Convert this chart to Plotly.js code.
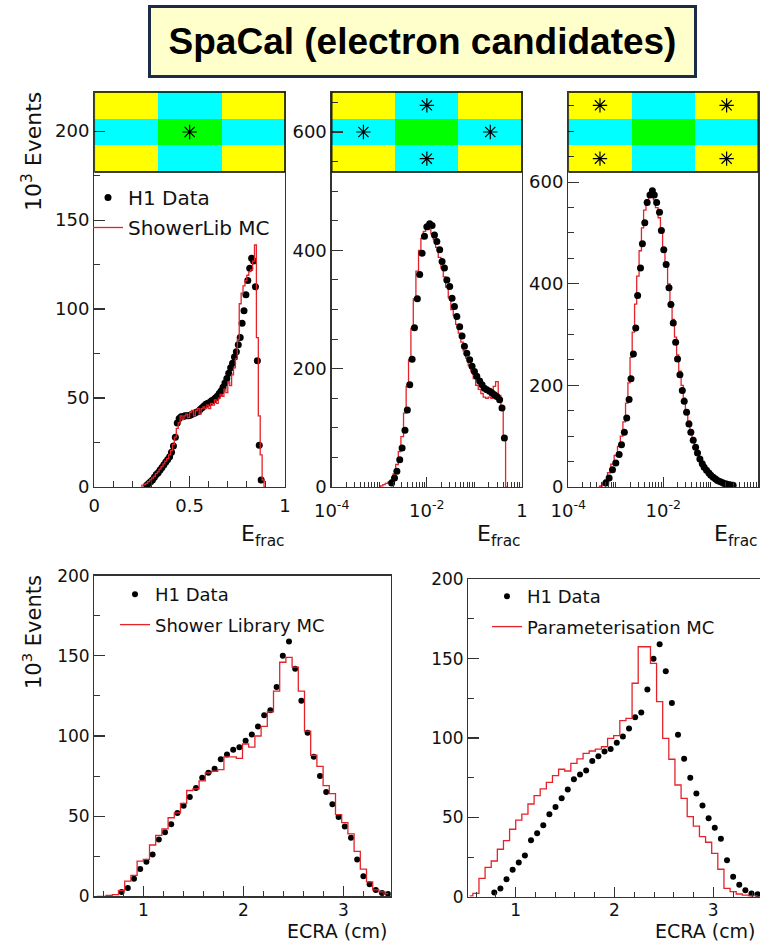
<!DOCTYPE html>
<html><head><meta charset="utf-8">
<script src="https://cdn.plot.ly/plotly-3.0.1.min.js"></script>
<style>html,body{margin:0;padding:0;background:#fff}#chart{width:760px;height:945px}</style>
</head><body><div id="chart"></div>
<script>
// ---------- DATA ----------
// Top-left: central cell, E_frac (linear)
const tlDataX = [0.275,0.285,0.295,0.305,0.315,0.325,0.335,0.345,0.355,0.365,0.375,0.385,0.395,0.405,0.415,0.425,0.435,0.445,0.455,0.465,0.475,0.485,0.495,0.505,0.515,0.525,0.535,0.545,0.555,0.565,0.575,0.585,0.595,0.605,0.615,0.625,0.635,0.645,0.655,0.665,0.675,0.685,0.695,0.705,0.715,0.725,0.735,0.745,0.755,0.765,0.775,0.785,0.795,0.805,0.815,0.825,0.835,0.845,0.855,0.865,0.875];
const tlData = [1,2,3,4,5.5,7,8,9.5,11,12.5,14,15.5,17,19.5,23,28,36,38.5,39.5,39.5,40,40,40,40.5,41,41.5,42,42.5,43.5,44.5,45.5,46.5,47,47.5,48.5,49,50,51,52.5,54,56,58.5,61,64,67,69.5,73,76,80,84,92,99,108,116,123,128.5,127,112.5,71,23.5,4];
const tlMcX = [0.245,0.255,0.265,0.275,0.285,0.295,0.305,0.315,0.325,0.335,0.345,0.355,0.365,0.375,0.385,0.395,0.405,0.415,0.425,0.435,0.445,0.455,0.465,0.475,0.485,0.495,0.505,0.515,0.525,0.535,0.545,0.555,0.565,0.575,0.585,0.595,0.605,0.615,0.625,0.635,0.645,0.655,0.665,0.675,0.685,0.695,0.705,0.715,0.725,0.735,0.745,0.755,0.765,0.775,0.785,0.795,0.805,0.815,0.825,0.835,0.845,0.855,0.865,0.875,0.885,0.895];
const tlMc = [0.5,1,1.5,2,3,4,5,6,7.5,8.5,10,11.5,13,14.5,16,18,20.5,24,28,33,36,40,38,40,41,39,42,43,40,43,44,41,44,45,44,46,44,47,46,49,47,50,52,51,55,53,59,57,63,67,72,83,103,109,113,116,119,121,122,127,136,84,40,18,4,0];

// Top-middle: edge cells, log10(E_frac)
const midDataLogX = [-2.74,-2.68,-2.63,-2.57,-2.52,-2.46,-2.41,-2.36,-2.31,-2.26,-2.20,-2.15,-2.10,-2.05,-2.00,-1.94,-1.89,-1.84,-1.79,-1.73,-1.68,-1.63,-1.58,-1.52,-1.47,-1.42,-1.37,-1.31,-1.26,-1.21,-1.16,-1.10,-1.05,-1.00,-0.95,-0.89,-0.84,-0.79,-0.74,-0.68,-0.63,-0.58,-0.53,-0.47,-0.42,-0.37];
const midData = [6.8,15,26.5,46,66,96,130,173,216,269,318,359,395,424,440,445,442,426,415,401,381,370,350,339,319,305,288,271,255,238,226,215,204,195,187,179,173,167,164.5,162,159,156,153,147.6,133.5,83];
const midMcLogX = [-3.00,-2.95,-2.90,-2.85,-2.79,-2.74,-2.68,-2.63,-2.57,-2.52,-2.46,-2.41,-2.36,-2.31,-2.26,-2.20,-2.15,-2.10,-2.05,-2.00,-1.94,-1.89,-1.84,-1.79,-1.73,-1.68,-1.63,-1.58,-1.52,-1.47,-1.42,-1.37,-1.31,-1.26,-1.21,-1.16,-1.10,-1.05,-1.00,-0.95,-0.89,-0.84,-0.79,-0.74,-0.68,-0.63,-0.58,-0.53,-0.47,-0.42,-0.37,-0.32];
const midMc = [0.5,2,4,6,8,12,22,38,60,85,125,170,215,268,318,365,400,420,432,440,435,428,418,405,388,370,355,338,320,300,290,275,260,245,230,218,205,195,183,172,165,158,152,150,152,150,170,178,155,135,80,0];

// Top-right: corner cells, log10(E_frac)
const rDataLogX = [-3.21,-3.14,-3.07,-3.00,-2.93,-2.88,-2.82,-2.77,-2.72,-2.68,-2.63,-2.58,-2.54,-2.48,-2.44,-2.39,-2.34,-2.28,-2.23,-2.19,-2.14,-2.08,-2.04,-1.99,-1.94,-1.88,-1.84,-1.79,-1.74,-1.70,-1.65,-1.60,-1.56,-1.51,-1.46,-1.42,-1.37,-1.32,-1.28,-1.23,-1.18,-1.14,-1.09,-1.04,-1.00,-0.95,-0.90,-0.86,-0.81,-0.76,-0.72,-0.67,-0.62,-0.58,-0.53];
const rData = [7.9,17.7,34,47,64,83,108,136,172,213,262,313,377,431,479,520,560,575,583,575,560,541,505,467,438,392,359,323,285,252,221,190,169,147,124,108,92,78,67,55,46,39,33,27.6,23,19,15.7,13,11,9,7,6,4.6,4,3.3];
const rMcLogX = [-3.36,-3.31,-3.26,-3.21,-3.14,-3.07,-3.00,-2.93,-2.88,-2.82,-2.77,-2.72,-2.68,-2.63,-2.58,-2.54,-2.48,-2.44,-2.39,-2.34,-2.28,-2.23,-2.19,-2.14,-2.08,-2.04,-1.99,-1.94,-1.88,-1.84,-1.79,-1.74,-1.70,-1.65,-1.60,-1.56,-1.51,-1.46,-1.42,-1.37,-1.32,-1.28,-1.23,-1.18,-1.14,-1.09,-1.04,-1.00,-0.95,-0.90,-0.86,-0.81,-0.76,-0.72,-0.67,-0.62,-0.58,-0.53,-0.48];
const rMc = [0,2,6,14,28,45,62,80,100,128,165,205,255,305,360,415,465,510,545,565,572,575,565,550,530,500,470,440,400,365,330,295,260,228,200,175,152,130,112,96,82,70,58,48,40,33,27,22,18,15,12,10,8,6.5,5,4,3,2,0];

// Bottom: ECRA (cm)
const ecraDataX = [0.783,0.845,0.907,0.969,1.031,1.093,1.155,1.217,1.279,1.341,1.403,1.465,1.527,1.589,1.651,1.713,1.775,1.837,1.899,1.961,2.023,2.085,2.147,2.209,2.271,2.333,2.395,2.457,2.519,2.581,2.643,2.705,2.767,2.829,2.891,2.953,3.015,3.077,3.139,3.201,3.263,3.325,3.387,3.449];
const ecraData = [2.7,5.2,11,17,21.5,26,35.5,40,45,52,56.5,62,67.5,74,77,79.5,85.5,88.5,91.5,93,97,101,106,113,116,130.5,150,159,142,122,102,87,75,65,57.5,49.5,43.5,36.5,23,12.5,7.5,4,2,1.5];
const ecraMcX = [0.535,0.597,0.659,0.721,0.783,0.845,0.907,0.969,1.031,1.093,1.155,1.217,1.279,1.341,1.403,1.465,1.527,1.589,1.651,1.713,1.775,1.837,1.899,1.961,2.023,2.085,2.147,2.209,2.271,2.333,2.395,2.457,2.519,2.581,2.643,2.705,2.767,2.829,2.891,2.953,3.015,3.077,3.139,3.201,3.263,3.325,3.387,3.449];
const showerLibMc = [0,0,0.5,1,3.5,9.5,13,22,23,32,38,42,49,52,58,66,67,72,77,78,79,87,87,86,95,93,100,106,115,128,146,149,143,128,103,88,81,69,64,51,46,39,28,17,9,4,2.7,1.7];
const paramMc = [0.5,2.1,11.6,18.5,22.5,29.9,35.3,42.5,48.3,52,58.4,63.7,67.9,72,76.3,80.3,79.2,84,86.8,90.3,91.8,93,94.5,99.8,101.5,110.9,112.4,134.5,157.5,157.5,147,122.9,99.8,86.6,70.4,62,50.4,44.5,37.8,34.3,27.3,17.3,5.3,3.2,1.7,1,0.5,0.5];

// Inset cell maps (0 = corner, 1 = edge, 2 = centre)
const cellZ = [[0,1,0],[1,2,1],[0,1,0]];
const starsCentreX = [1], starsCentreY = [1];
const starsEdgeX = [1,0,2,1], starsEdgeY = [2,1,1,0];
const starsCornerX = [0,2,0,2], starsCornerY = [2,2,0,0];

// Labels
const titleText = 'SpaCal (electron candidates)';
const dataName = 'H1 Data';
const mcNames = ['ShowerLib MC', 'Shower Library MC', 'Parameterisation MC'];
const logTickVals = [1e-4, 1e-2, 1];
const logTickText = ['10<sup>-4</sup>', '10<sup>-2</sup>', '1'];

// ---------- STYLE ----------
const W = 760, H = 945;
const FONT = 'DejaVu Sans, Liberation Sans, Arial, sans-serif';
const RED = '#e5222a';
const AX = '#333';
const INSET_FRAC = 80 / 395;
const px = p => p / W;
const py = p => 1 - p / H;
const pow10 = a => a.map(v => Math.pow(10, v));

function ax(extra, fs) {
  return Object.assign({
    showline: true, linecolor: AX, linewidth: 1.3, mirror: true,
    ticks: 'inside', ticklen: 11, tickwidth: 1.2, tickcolor: AX,
    showgrid: false, zeroline: false, fixedrange: true,
    tickfont: {family: FONT, size: fs || 18, color: '#111'},
    minor: {ticks: 'inside', ticklen: 6, tickwidth: 1, tickcolor: AX, showgrid: false}
  }, extra);
}
function withMinor(a, m) { a.minor = Object.assign({}, a.minor, m); return a; }

const dataMarker = s => ({color: '#000', size: s});
const mcLine = {color: RED, width: 1.3, shape: 'hvh'};

const traces = [
  // top-left
  {type:'scatter', mode:'markers', x: tlDataX, y: tlData, xaxis:'x', yaxis:'y', marker: dataMarker(7), name: dataName, legend:'legend', legendgroup:'a1', hoverinfo:'skip'},
  {type:'scatter', mode:'lines', x: tlMcX, y: tlMc, xaxis:'x', yaxis:'y', line: mcLine, name: mcNames[0], legend:'legend', legendgroup:'a2', hoverinfo:'skip'},
  // top-middle
  {type:'scatter', mode:'lines', x: pow10(midMcLogX), y: midMc, xaxis:'x2', yaxis:'y2', line: mcLine, showlegend:false, hoverinfo:'skip'},
  {type:'scatter', mode:'markers', x: pow10(midDataLogX), y: midData, xaxis:'x2', yaxis:'y2', marker: dataMarker(7), showlegend:false, hoverinfo:'skip'},
  // top-right
  {type:'scatter', mode:'lines', x: pow10(rMcLogX), y: rMc, xaxis:'x3', yaxis:'y3', line: mcLine, showlegend:false, hoverinfo:'skip'},
  {type:'scatter', mode:'markers', x: pow10(rDataLogX), y: rData, xaxis:'x3', yaxis:'y3', marker: dataMarker(7), showlegend:false, hoverinfo:'skip'},
  // bottom-left
  {type:'scatter', mode:'markers', x: ecraDataX, y: ecraData, xaxis:'x4', yaxis:'y4', marker: dataMarker(6), name: dataName, legend:'legend2', legendgroup:'b1', hoverinfo:'skip'},
  {type:'scatter', mode:'lines', x: ecraMcX, y: showerLibMc, xaxis:'x4', yaxis:'y4', line: mcLine, name: mcNames[1], legend:'legend2', legendgroup:'b2', hoverinfo:'skip'},
  // bottom-right
  {type:'scatter', mode:'markers', x: ecraDataX, y: ecraData, xaxis:'x5', yaxis:'y5', marker: dataMarker(6), name: dataName, legend:'legend3', legendgroup:'c1', hoverinfo:'skip'},
  {type:'scatter', mode:'lines', x: ecraMcX, y: paramMc, xaxis:'x5', yaxis:'y5', line: mcLine, name: mcNames[2], legend:'legend3', legendgroup:'c2', hoverinfo:'skip'}
];

// insets
const cs = [[0,'#ffff00'],[0.5,'#00ffff'],[1,'#00ff00']];
[['x6','y6',starsCentreX,starsCentreY],['x7','y7',starsEdgeX,starsEdgeY],['x8','y8',starsCornerX,starsCornerY]].forEach(([xa,ya,sx,sy]) => {
  traces.push({type:'heatmap', z: cellZ, xaxis: xa, yaxis: ya, colorscale: cs, zmin:0, zmax:2, showscale:false, hoverinfo:'skip'});
  traces.push({type:'scatter', mode:'markers', x: sx, y: sy, xaxis: xa, yaxis: ya, showlegend:false, hoverinfo:'skip',
    marker:{symbol:'asterisk-open', size:12, color:'#000', line:{color:'#000', width:1.2}}});
});

const topDom = [py(487), py(92)];
const logX = (d) => withMinor(ax({type:'log', domain:d, range:[-4,0], tickmode:'array', tickvals: logTickVals, ticktext: logTickText, ticklen:10, ticklabelstandoff:7}), {dtick:'D1', ticklen:5});
const legendBase = (x, y, fs, gap) => ({x: px(x), y: py(y), xanchor:'left', yanchor:'top', bgcolor:'rgba(0,0,0,0)', tracegroupgap: gap, font:{family:FONT, size:fs, color:'#111'}});
const layout = {
  width: W, height: H, margin: {l:0, r:0, t:0, b:0},
  paper_bgcolor: '#fff', plot_bgcolor: '#fff', showlegend: true,
  xaxis: withMinor(ax({domain:[px(94.3), px(285)], range:[0,1], dtick:0.5, tick0:0, anchor:'y', ticklabelstandoff:2}), {dtick:0.1}),
  yaxis: withMinor(ax({domain: topDom, range:[0,222], dtick:50, tick0:0, anchor:'x'}), {dtick:25}),
  xaxis2: Object.assign(logX([px(331.7), px(522)]), {anchor:'y2'}),
  yaxis2: withMinor(ax({domain: topDom, range:[0,667.6], dtick:200, tick0:0, anchor:'x2'}), {dtick:50}),
  xaxis3: Object.assign(logX([px(568.3), px(758.3)]), {anchor:'y3'}),
  yaxis3: withMinor(ax({domain: topDom, range:[0,777.5], dtick:200, tick0:0, anchor:'x3'}), {dtick:50}),
  xaxis4: withMinor(ax({domain:[px(94.3), px(390.7)], range:[0.51,3.474], dtick:1, tick0:0, ticklen:10, ticklabelstandoff:-2, anchor:'y4'}, 17), {dtick:0.2, tick0:0, ticklen:5}),
  yaxis4: withMinor(ax({domain:[py(896.3), py(575.7)], range:[0,200], dtick:50, tick0:0, anchor:'x4'}, 17), {dtick:25}),
  xaxis5: withMinor(ax({domain:[px(468.3), 1], range:[0.52,3.473], dtick:1, tick0:0, ticklen:10, ticklabelstandoff:-2, anchor:'y5'}, 17), {dtick:0.2, tick0:0, ticklen:5}),
  yaxis5: withMinor(ax({domain:[py(896.7), py(579.3)], range:[0,200], dtick:50, tick0:0, anchor:'x5', mirror:false}, 17), {dtick:25}),
  legend:  legendBase(88, 178, 20, 1),
  legend2: legendBase(115, 576, 18, 4),
  legend3: legendBase(487, 578, 18, 4),
  shapes: [],
  annotations: [
    {text: titleText, xref:'paper', yref:'paper', x: px(422.5), y: py(41.5), xanchor:'center', yanchor:'middle', showarrow:false,
     font:{family:'Liberation Sans, Arial, sans-serif', size:37, weight:700, color:'#000'},
     bgcolor:'#ffffcc', bordercolor:'#1c2b4a', borderwidth:3, borderpad:0, width:543, height:67},
    {text:'10<sup>3</sup> Events', xref:'paper', yref:'paper', x: px(32), y: py(152), xanchor:'center', yanchor:'middle', textangle:-90, showarrow:false, font:{family:FONT, size:22, color:'#111'}},
    {text:'10<sup>3</sup> Events', xref:'paper', yref:'paper', x: px(32), y: py(632), xanchor:'center', yanchor:'middle', textangle:-90, showarrow:false, font:{family:FONT, size:21, color:'#111'}},
    {text:'E<sub>frac</sub>', xref:'paper', yref:'paper', x: px(287), y: py(535), xanchor:'right', yanchor:'middle', showarrow:false, font:{family:FONT, size:22, color:'#111'}},
    {text:'E<sub>frac</sub>', xref:'paper', yref:'paper', x: px(523), y: py(535), xanchor:'right', yanchor:'middle', showarrow:false, font:{family:FONT, size:22, color:'#111'}},
    {text:'E<sub>frac</sub>', xref:'paper', yref:'paper', x: px(760), y: py(535), xanchor:'right', yanchor:'middle', showarrow:false, font:{family:FONT, size:22, color:'#111'}},
    {text:'ECRA (cm)', xref:'paper', yref:'paper', x: px(390), y: py(944), xanchor:'right', yanchor:'bottom', showarrow:false, font:{family:FONT, size:19, color:'#111'}},
    {text:'ECRA (cm)', xref:'paper', yref:'paper', x: px(758), y: py(944), xanchor:'right', yanchor:'bottom', showarrow:false, font:{family:FONT, size:19, color:'#111'}}
  ]
};
// inset overlay axes
[['6',''],['7','2'],['8','3']].forEach(([n, base]) => {
  const bx = 'x' + base, by = 'y' + base;
  const hidden = {visible: false, showticklabels: false, ticks: '', showgrid: false, zeroline: false, showline: false, fixedrange: true};
  layout['xaxis' + n] = Object.assign({overlaying: bx, anchor: 'y' + n, range: [-0.5, cellZ[0].length - 0.5]}, hidden);
  layout['yaxis' + n] = Object.assign({overlaying: by, anchor: 'x' + n, range: [cellZ.length - 0.5 - cellZ.length / INSET_FRAC, cellZ.length - 0.5]}, hidden);
  layout.shapes.push({type:'rect', xref:'x' + n, yref:'y' + n, x0: -0.5, x1: cellZ[0].length - 0.5, y0: -0.5, y1: cellZ.length - 0.5, line:{color:'#000', width:1.5}, layer:'above'});
});

Plotly.newPlot('chart', traces, layout, {staticPlot: true, displayModeBar: false});
</script></body></html>
